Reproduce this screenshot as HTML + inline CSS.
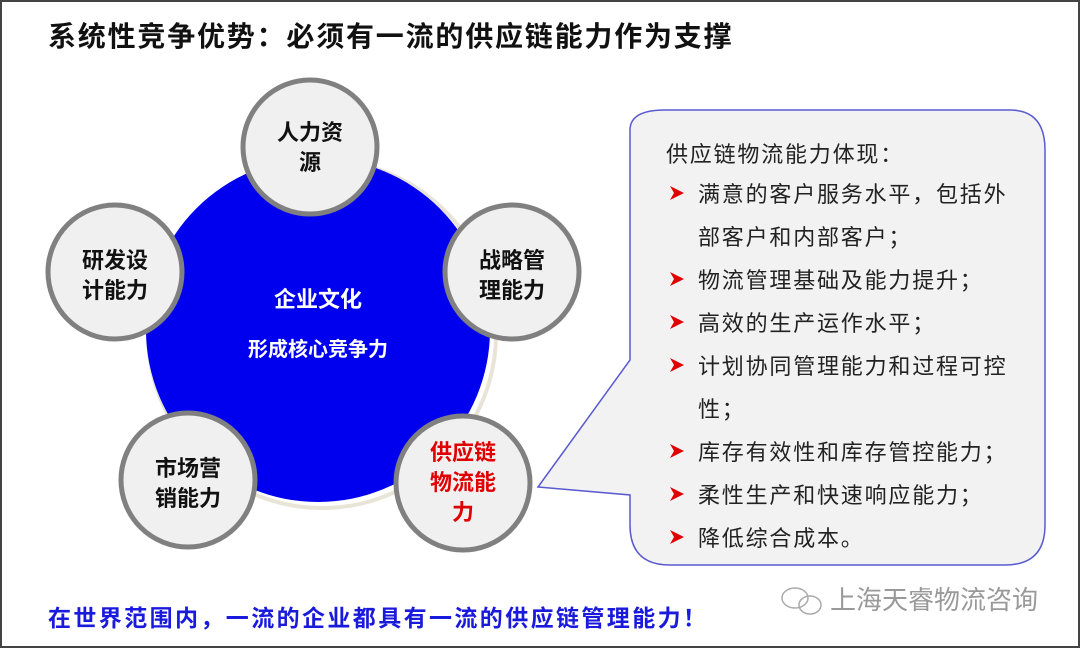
<!DOCTYPE html>
<html><head><meta charset="utf-8"><style>
body{margin:0;width:1080px;height:648px;overflow:hidden;background:#fff;font-family:"Liberation Sans","Noto Sans CJK SC",sans-serif}
.frame{position:absolute;left:0;top:0;width:1076px;height:644px;border:2px solid #444}
.t{position:absolute;white-space:nowrap}
</style></head><body>
<div class="frame"></div>
<div class="t" style="left:48px;top:15px;font-size:28px;letter-spacing:1.8px;font-weight:bold;color:#111">系统性竞争优势：必须有一流的供应链能力作为支撑</div>
<svg width="1080" height="648" style="position:absolute;left:0;top:0">
<circle cx="322" cy="334" r="174" fill="#fff" stroke="#e8e4d8" stroke-width="4"/>
<circle cx="318" cy="330" r="172" fill="#0000ee"/>
<path d="M538,487 L630,360 L630,130 Q630,110 665,110 L1010,110 Q1045,110 1045,150 L1045,525 Q1045,565 1005,565 L670,565 Q630,565 630,525 L630,495 Z" fill="#f2f2f2" stroke="#5a5ad0" stroke-width="1.5"/>
<g fill="#f0f0f0" stroke="#808080" stroke-width="5">
<circle cx="310" cy="147" r="67"/>
<circle cx="115" cy="272" r="67"/>
<circle cx="512" cy="272" r="67"/>
<circle cx="188" cy="480" r="67"/>
<circle cx="463" cy="483" r="67"/>
</g>
<g font-size="22" font-weight="bold" text-anchor="middle" fill="#111" font-family="Liberation Sans,Noto Sans CJK SC,sans-serif">
<text x="310" y="140">人力资</text><text x="310" y="170">源</text>
<text x="115" y="268">研发设</text><text x="115" y="298">计能力</text>
<text x="512" y="268">战略管</text><text x="512" y="298">理能力</text>
<text x="188" y="476">市场营</text><text x="188" y="506">销能力</text>
<g fill="#e00000"><text x="463" y="460">供应链</text><text x="463" y="490">物流能</text><text x="463" y="520">力</text></g>
<g fill="#fff"><text x="318" y="307">企业文化</text><text x="318" y="356" font-size="20">形成核心竞争力</text></g>
</g>
<g fill="#e00000">
<path d="M670,186 L684,193 L670,200 L674,193Z"/>
<path d="M670,272 L684,279 L670,286 L674,279Z"/>
<path d="M670,315 L684,322 L670,329 L674,322Z"/>
<path d="M670,358 L684,365 L670,372 L674,365Z"/>
<path d="M670,444 L684,451 L670,458 L674,451Z"/>
<path d="M670,487 L684,494 L670,501 L674,494Z"/>
<path d="M670,530 L684,537 L670,544 L674,537Z"/>
</g>
<g font-size="22" letter-spacing="1.8" fill="#222" font-family="Liberation Sans,Noto Sans CJK SC,sans-serif">
<text x="666" y="162">供应链物流能力体现：</text>
<text x="698" y="202">满意的客户服务水平，包括外</text>
<text x="698" y="245">部客户和内部客户；</text>
<text x="698" y="288">物流管理基础及能力提升；</text>
<text x="698" y="331">高效的生产运作水平；</text>
<text x="698" y="374">计划协同管理能力和过程可控</text>
<text x="698" y="417">性；</text>
<text x="698" y="460">库存有效性和库存管控能力；</text>
<text x="698" y="503">柔性生产和快速响应能力；</text>
<text x="698" y="546">降低综合成本。</text>
</g>
<g fill="none" stroke="#aaa" stroke-width="1.5"><ellipse cx="795" cy="598" rx="13" ry="10"/><ellipse cx="810" cy="605" rx="11" ry="9"/></g>
<text x="830" y="609" font-size="26" fill="#999" font-family="Liberation Sans,Noto Sans CJK SC,sans-serif">上海天睿物流咨询</text>
</svg>
<div class="t" style="left:48px;top:599px;font-size:23px;letter-spacing:2.4px;font-weight:bold;color:#1a1adc">在世界范围内，一流的企业都具有一流的供应链管理能力！</div>
</body></html>
